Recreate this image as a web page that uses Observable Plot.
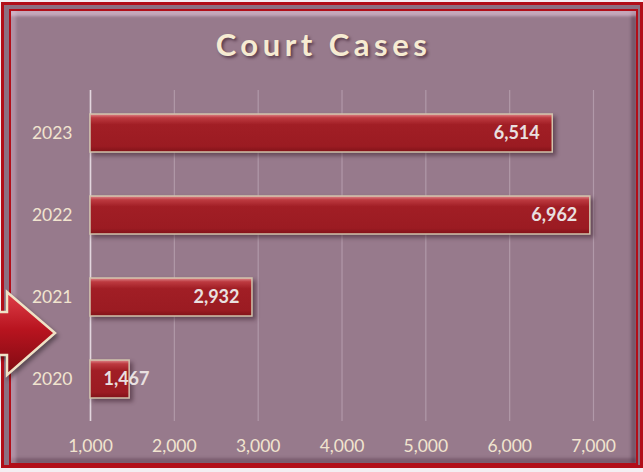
<!DOCTYPE html>
<html>
<head>
<meta charset="utf-8">
<script src="https://cdn.jsdelivr.net/npm/d3@7"></script>
<script src="https://cdn.jsdelivr.net/npm/@observablehq/plot@0.6"></script>
<style>
  html, body { margin:0; padding:0; background:#ffffff; }
  #frame { position:relative; width:643px; height:472px; overflow:hidden; background:#f4eef2; font-family: Lato, "Open Sans", sans-serif; }
  #outer { position:absolute; left:1px; top:2px; right:0px; bottom:4px; border:3px solid #b20e19; background:#8c7082; box-sizing:border-box; }
  #inner { position:absolute; left:9px; top:9px; right:5px; bottom:7px; border:2px solid #b20e19; background:#977a8c; box-sizing:border-box;
    box-shadow: inset 0 6px 3px -1px rgba(235,205,225,0.55), inset 6px 0 3px -1px rgba(220,190,210,0.35), inset -6px 0 3px -1px rgba(60,30,50,0.35), inset 0 -6px 3px -1px rgba(60,30,50,0.3); }
  #title { position:absolute; left:4px; right:0; top:25px; text-align:center; font-family: Lato, sans-serif; font-weight:700; font-size:31px; letter-spacing:4.5px; color:#f6ebd2; text-shadow: 2px 2px 3px rgba(50,20,35,0.6); }
  #chart { position:absolute; left:0; top:0; }
  #arrow { position:absolute; left:0; top:0; }
</style>
</head>
<body>
<div id="frame">
  <div id="outer"></div>
  <div id="inner"></div>
  <div id="title">Court Cases</div>
  <div id="chart"></div>
  <svg id="arrow" width="643" height="472">
    <defs>
      <linearGradient id="arrowGrad" x1="0" y1="0" x2="0" y2="1">
        <stop offset="0" stop-color="#e0404a"/>
        <stop offset="0.45" stop-color="#b8141f"/>
        <stop offset="1" stop-color="#7e0a12"/>
      </linearGradient>
    </defs>
    <polygon points="-30,312 7,312 7,292 55,333 7,375 7,355 -30,355" fill="url(#arrowGrad)" stroke="#efe2c6" stroke-width="2.5" stroke-linejoin="miter" style="filter: drop-shadow(2px 3px 2px rgba(0,0,0,0.4));"/>
  </svg>
</div>
<script>
const years = ["2020", "2021", "2022", "2023"];
const cases = [1467, 2932, 6962, 6514];
const xTicks = [1000, 2000, 3000, 4000, 5000, 6000, 7000];
const yOrder = ["2023", "2022", "2021", "2020"];
const baseline = 1000;

const data = years.map((year, i) => ({year, value: cases[i]}));
const fmt = d3.format(",");
const cream = "#f1e4cf";

const chart = Plot.plot({
  width: 643,
  height: 472,
  marginTop: 90,
  marginBottom: 51,
  marginLeft: 90,
  marginRight: 50,
  style: { background: "transparent", color: cream, fontFamily: "Lato, sans-serif", fontSize: "17px", overflow: "visible" },
  x: { domain: [1000, 7000], label: null },
  y: { domain: yOrder, paddingInner: 0.54, paddingOuter: 0.27, label: null },
  marks: [
    Plot.gridX(xTicks, { stroke: "#c7b3c1", strokeOpacity: 0.55, strokeWidth: 1.2 }),
    Plot.ruleX([baseline], { stroke: "#e2d6de", strokeWidth: 1.6 }),
    Plot.barX(data, { x1: baseline, x2: "value", y: "year", fill: "url(#barGrad)", stroke: "#d2c4ad", strokeWidth: 1.5 }),
    Plot.axisX({ ticks: xTicks, tickFormat: fmt, tickSize: 0, tickPadding: 18, fontSize: 17.5, fill: cream }),
    Plot.axisY({ tickSize: 0, tickPadding: 18, fontSize: 17.5, fill: cream }),
    Plot.text(data.filter(d => d.value - baseline >= 1200), { x: "value", y: "year", text: d => fmt(d.value), textAnchor: "end", dx: -13, fill: "#e9e0e0", fontWeight: "bold", fontSize: 18, letterSpacing: "0.8px" }),
    Plot.text(data.filter(d => d.value - baseline < 1200), { x: baseline, y: "year", text: d => fmt(d.value), textAnchor: "start", dx: 13, fill: "#e9e0e0", fontWeight: "bold", fontSize: 18, letterSpacing: "0.8px" })
  ]
});

const svg = d3.select(chart);
const defs = svg.insert("defs", ":first-child");
const g = defs.append("linearGradient").attr("id", "barGrad").attr("x1", 0).attr("y1", 0).attr("x2", 0).attr("y2", 1);
g.append("stop").attr("offset", "0").attr("stop-color", "#e08a8e");
g.append("stop").attr("offset", "0.1").attr("stop-color", "#bd3a40");
g.append("stop").attr("offset", "0.28").attr("stop-color", "#a11e25");
g.append("stop").attr("offset", "0.85").attr("stop-color", "#9b1b22");
g.append("stop").attr("offset", "1").attr("stop-color", "#801218");
svg.selectAll("g[aria-label='bar']").style("filter", "drop-shadow(3px 3px 2px rgba(40,10,25,0.45))");

document.getElementById("chart").appendChild(chart);
</script>
</body>
</html>
